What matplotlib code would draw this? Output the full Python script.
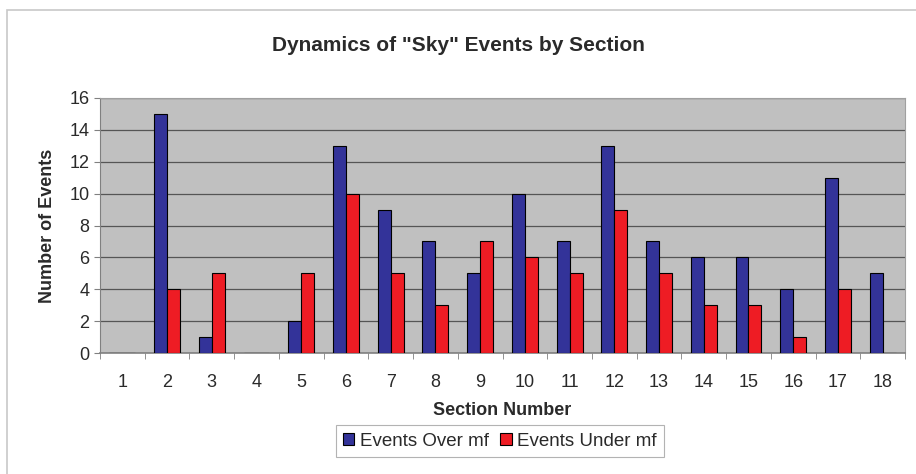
import matplotlib
matplotlib.use("Agg")
import matplotlib.pyplot as plt
import numpy as np
from matplotlib.patches import Rectangle

plt.rcParams['font.family'] = ['Liberation Sans', 'DejaVu Sans']

sections = [str(i) for i in range(1, 19)]
events_over = [0, 15, 1, 0, 2, 13, 9, 7, 5, 10, 7, 13, 7, 6, 6, 4, 11, 5]
events_under = [0, 4, 5, 0, 5, 10, 5, 3, 7, 6, 5, 9, 5, 3, 3, 1, 4, 0]
y_ticks = [0, 2, 4, 6, 8, 10, 12, 14, 16]

text_color = '#2a2a2a'

fig = plt.figure(figsize=(9.16, 4.74), dpi=100)
fig.patch.set_facecolor('white')
frame = Rectangle((7 / 916, -0.01), 1.0, 1 - 10 / 474 + 0.01,
                  transform=fig.transFigure, facecolor='white',
                  edgecolor='#c8c8c8', linewidth=1.2, zorder=-5)
fig.patches.append(frame)

ax = fig.add_axes([100 / 916, 1 - 353 / 474, 805 / 916, 255 / 474])
ax.set_facecolor('#c0c0c0')

x = np.arange(len(sections))
w = 0.29
ax.bar(x - w / 2, events_over, w, color='#333399', edgecolor='black',
       linewidth=0.8, label='Events Over mf', zorder=3)
ax.bar(x + w / 2, events_under, w, color='#ee1c24', edgecolor='black',
       linewidth=0.8, label='Events Under mf', zorder=3)

ax.set_xlim(-0.5, len(sections) - 0.5)
ax.set_ylim(0, 16)
ax.set_yticks(y_ticks)
ax.yaxis.grid(True, color='#555555', linewidth=0.9, zorder=1)
ax.set_axisbelow(True)

ax.set_xticks(x)
ax.set_xticklabels(sections)
ax.set_xticks(np.arange(-0.5, len(sections)), minor=True)
ax.tick_params(axis='x', which='major', length=0, pad=15, labelsize=13,
               labelcolor=text_color)
ax.tick_params(axis='x', which='minor', length=4, color='#808080')
ax.tick_params(axis='y', length=4, color='#808080', labelsize=13,
               labelcolor=text_color)

for s in ['top', 'right']:
    ax.spines[s].set_color('#a0a0a0')
    ax.spines[s].set_linewidth(0.8)
ax.spines['left'].set_color('#808080')
ax.spines['bottom'].set_color('#808080')
ax.spines['bottom'].set_linewidth(1.2)

ax.set_ylabel('Number of Events', fontsize=13, fontweight='bold', labelpad=10,
              color=text_color)
ax.set_xlabel('Section Number', fontsize=13, fontweight='bold', labelpad=8,
              color=text_color)
fig.text(0.5, 1 - 45 / 474, 'Dynamics of "Sky" Events by Section',
         ha='center', va='center', fontsize=15, fontweight='bold',
         color=text_color)

leg = fig.legend(loc='center', bbox_to_anchor=(500 / 916, 1 - 441 / 474),
                 ncol=2, frameon=True, fancybox=False, fontsize=13.5,
                 handlelength=0.6, handleheight=0.6, handletextpad=0.3,
                 columnspacing=0.6, borderpad=0.4, labelcolor=text_color)
leg.get_frame().set_edgecolor('#a0a0a0')
leg.get_frame().set_linewidth(0.8)

fig.savefig('out.png', dpi=100)
